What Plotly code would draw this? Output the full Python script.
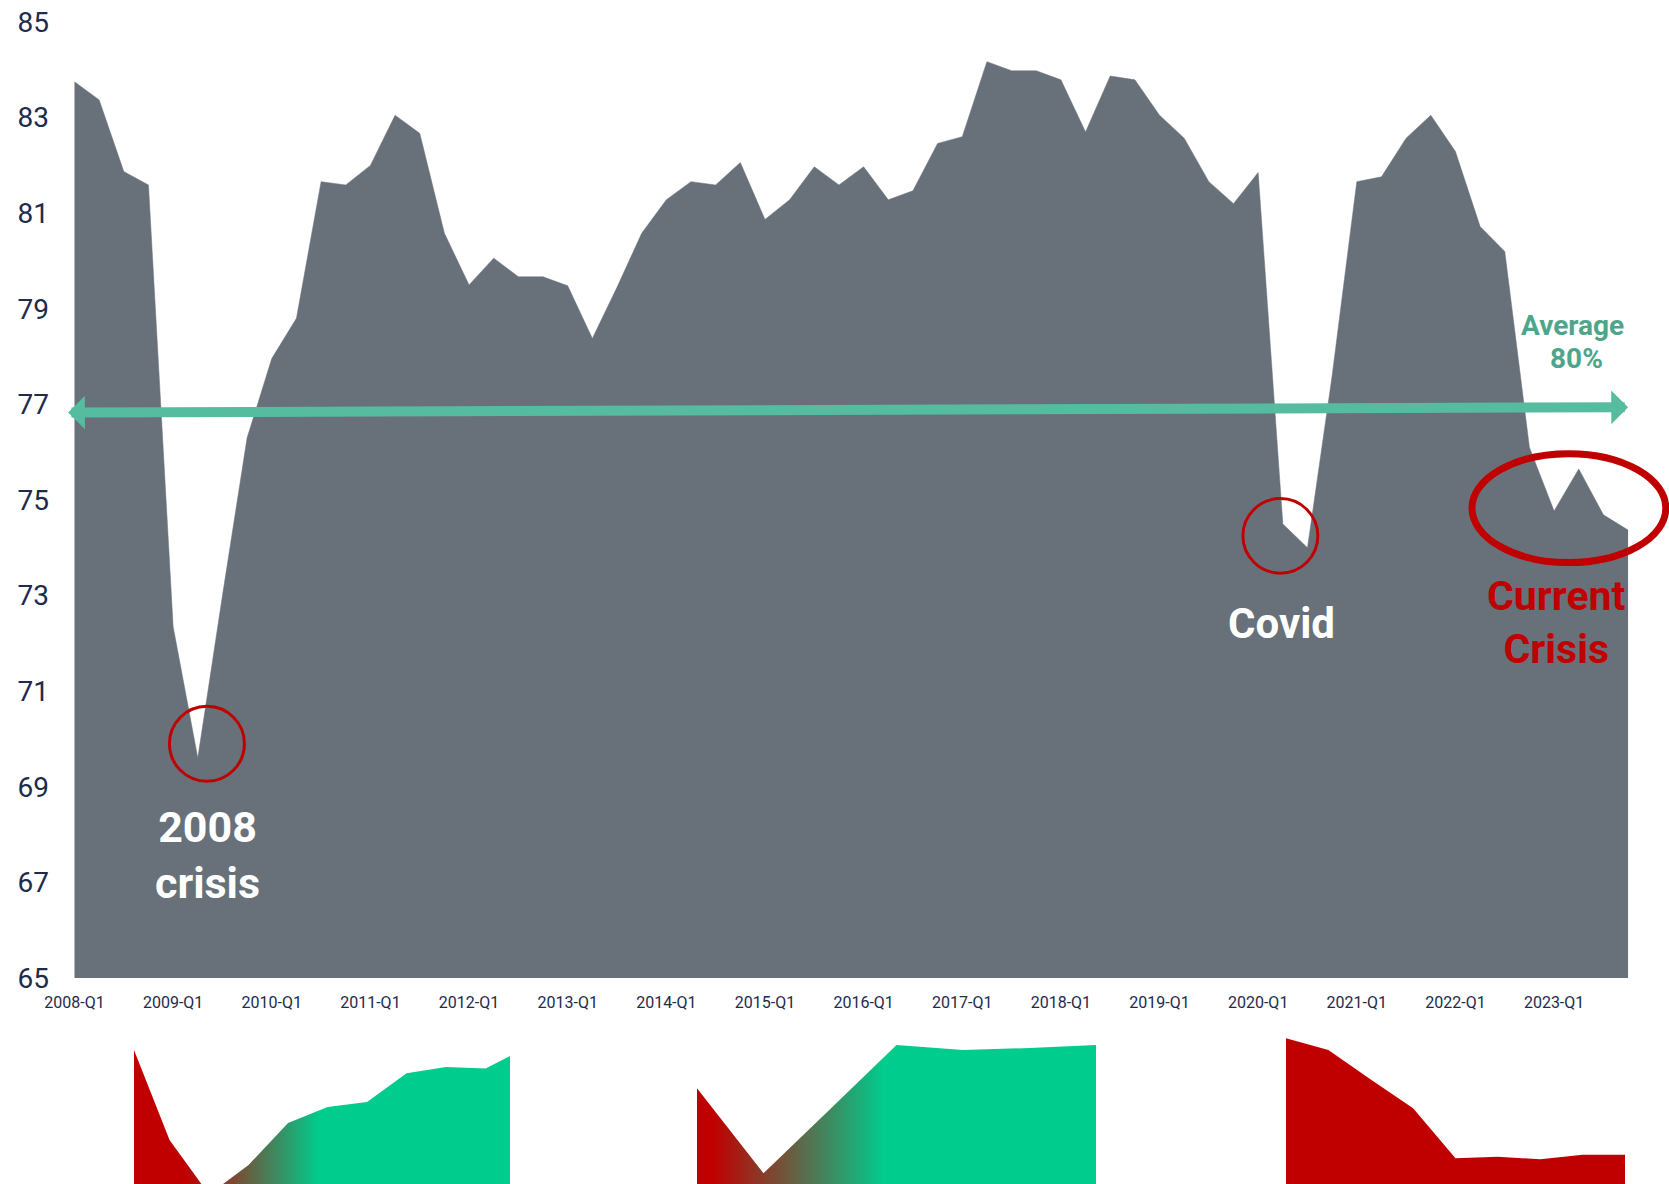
import plotly.graph_objects as go

# ---------------- data ----------------
years = list(range(2008, 2024))
quarters = [f"{y}-Q{q}" for y in years for q in range(1, 5)]
q1_ticks = [f"{y}-Q1" for y in years]

utilization = [83.75, 83.37, 81.87, 81.59, 72.35, 69.6, 73.0, 76.3,
               77.96, 78.8, 81.66, 81.59, 82.0, 83.05, 82.67, 80.58,
               79.5, 80.06, 79.67, 79.67, 79.48, 78.38, 79.45, 80.58,
               81.28, 81.66, 81.59, 82.06, 80.87, 81.28, 81.97, 81.59,
               81.97, 81.28, 81.47, 82.46, 82.6, 84.17, 83.98, 83.98,
               83.79, 82.7, 83.87, 83.79, 83.05, 82.57, 81.66, 81.2,
               81.85, 74.5, 74.0, 77.6, 81.66, 81.76, 82.57, 83.05,
               82.29, 80.72, 80.2, 76.1, 74.77, 75.65, 74.69, 74.37]

y_ticks = [65, 67, 69, 71, 73, 75, 77, 79, 81, 83, 85]

# average arrow level (as drawn in the original)
avg_left, avg_right = 76.83, 76.94

# small recovery panels (relative index)
recovery_2008 = [96, 29.3, -7, 12.7, 40.7, 51.3, 54.7, 73.8, 78, 77, 90.4]
recovery_covid = [63.8, 7.1, 49.9, 92.7, 89.3, 90.7, 92.7]
current_path = [97.1, 89.3, 69.7, 50.5, 17.1, 18.2, 16.5, 19.5, 19.5]

# ---------------- styles ----------------
GREY = "#68717A"
GREEN_ARROW = "#56BCA0"
GREEN_TEXT = "#4DA68B"
RED = "#C00000"
MINT = "#00CC8E"
NAVY = "#1E2B4A"
FONT = "Roboto"

fig = go.Figure()

fig.add_trace(go.Scatter(
    x=quarters, y=utilization, mode="lines",
    line=dict(color=GREY, width=0.5), fill="tozeroy", fillcolor=GREY,
    hoverinfo="skip", showlegend=False, xaxis="x", yaxis="y"))

grad1 = [[0, RED], [0.14, RED], [0.48, MINT], [1, MINT]]
grad2 = [[0, RED], [0.04, RED], [0.47, MINT], [1, MINT]]

fig.add_trace(go.Scatter(
    x=list(range(len(recovery_2008))), y=recovery_2008, mode="lines",
    line=dict(width=0, color=MINT), fill="tozeroy",
    fillgradient=dict(type="horizontal", colorscale=grad1),
    hoverinfo="skip", showlegend=False, xaxis="x2", yaxis="y2"))
fig.add_trace(go.Scatter(
    x=list(range(len(recovery_covid))), y=recovery_covid, mode="lines",
    line=dict(width=0, color=MINT), fill="tozeroy",
    fillgradient=dict(type="horizontal", colorscale=grad2),
    hoverinfo="skip", showlegend=False, xaxis="x3", yaxis="y3"))
fig.add_trace(go.Scatter(
    x=list(range(len(current_path))), y=current_path, mode="lines",
    line=dict(width=0, color=RED), fill="tozeroy", fillcolor=RED,
    hoverinfo="skip", showlegend=False, xaxis="x4", yaxis="y4"))

W, H = 1669, 1184
ML, MT = 62, 22
main_bottom = (H - 978) / (H - MT)
mini_top = 150 / (H - MT)


def px_dom(a, b):
    return [(a - ML) / (W - ML), (b - ML) / (W - ML)]


hidden = dict(visible=False, showgrid=False, zeroline=False, fixedrange=True,
              automargin=False)

fig.update_layout(
    template="none",
    width=W, height=H,
    margin=dict(l=ML, r=0, t=MT, b=0, pad=0, autoexpand=False),
    paper_bgcolor="white", plot_bgcolor="white",
    showlegend=False,
    xaxis=dict(domain=[0, 1], type="category", range=[-0.507, 64.66],
               tickmode="array", tickvals=q1_ticks, ticktext=q1_ticks,
               showgrid=False, zeroline=False, showline=False, ticks="",
               automargin=False,
               tickfont=dict(family=FONT, size=16, color=NAVY),
               ticklabelstandoff=13),
    yaxis=dict(domain=[main_bottom, 1], range=[65, 85],
               tickmode="array", tickvals=y_ticks,
               showgrid=False, zeroline=False, showline=False, ticks="",
               automargin=False,
               tickfont=dict(family=FONT, size=28, color=NAVY),
               ticklabelstandoff=12),
    xaxis2=dict(domain=px_dom(134, 510), range=[0.1, 9.62], anchor="y2", **hidden),
    yaxis2=dict(domain=[0, mini_top], range=[0, 100], anchor="x2", **hidden),
    xaxis3=dict(domain=px_dom(697, 1096), range=[0, 6], anchor="y3", **hidden),
    yaxis3=dict(domain=[0, mini_top], range=[0, 100], anchor="x3", **hidden),
    xaxis4=dict(domain=px_dom(1286, 1625), range=[0, 8], anchor="y4", **hidden),
    yaxis4=dict(domain=[0, mini_top], range=[0, 100], anchor="x4", **hidden),
)

# circles / ellipse highlighting crises
fig.add_shape(type="circle", xref="x", yref="y", x0=3.85, x1=6.89, y0=69.115, y1=70.685,
              line=dict(color=RED, width=3))
fig.add_shape(type="circle", xref="x", yref="y", x0=47.38, x1=50.42, y0=73.47, y1=75.03,
              line=dict(color=RED, width=3))
fig.add_shape(type="circle", xref="x", yref="y", x0=56.67, x1=64.53, y0=73.69, y1=75.97,
              line=dict(color=RED, width=7))

# average double arrow
fig.add_annotation(x=63.0, y=avg_right, ax=-0.32, ay=avg_left, xref="x", yref="y",
                   axref="x", ayref="y", text="", showarrow=True,
                   arrowside="end+start", arrowhead=1, startarrowhead=1,
                   arrowwidth=10, arrowsize=0.56, startarrowsize=0.56,
                   arrowcolor=GREEN_ARROW)

bold = dict(family=FONT, weight="bold")
fig.add_annotation(x=60.75, y=78.66, xref="x", yref="y", text="Average", showarrow=False,
                   font=dict(size=28, color=GREEN_TEXT, **bold))
fig.add_annotation(x=60.9, y=77.97, xref="x", yref="y", text="80%", showarrow=False,
                   font=dict(size=28, color=GREEN_TEXT, **bold))

fig.add_annotation(x=5.39, y=67.58, xref="x", yref="y", text="2008<br>crisis",
                   showarrow=False, align="center",
                   font=dict(size=43, color="white", **bold))
fig.add_annotation(x=48.94, y=72.41, xref="x", yref="y", text="Covid",
                   showarrow=False, font=dict(size=42, color="white", **bold))
fig.add_annotation(x=60.1, y=72.43, xref="x", yref="y", text="Current<br>Crisis",
                   showarrow=False, align="center",
                   font=dict(size=41, color=RED, **bold))

fig.write_html("out.html", config={"displayModeBar": False},
               post_script="document.body.style.margin='0px';")
